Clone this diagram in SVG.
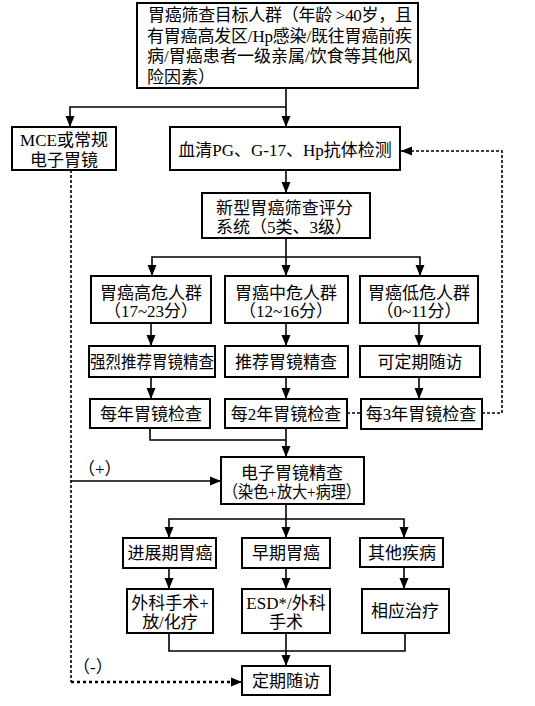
<svg xmlns="http://www.w3.org/2000/svg" width="535" height="706" viewBox="0 0 535 706">
<style>
.box{fill:#fff;stroke:#000;stroke-width:2}
.ln{fill:none;stroke:#000;stroke-width:1.6}
.dash{fill:none;stroke:#000;stroke-width:1.6;stroke-dasharray:3 2}
.dot{fill:none;stroke:#000;stroke-width:2.4;stroke-dasharray:3 3}
text{font-family:"Liberation Serif","Noto Sans CJK SC",serif;font-size:17px;fill:#000}
.c{text-anchor:middle}
</style>
<defs>
<marker id="ah" markerUnits="userSpaceOnUse" markerWidth="12" markerHeight="12" viewBox="0 0 12 12" refX="11" refY="6" orient="auto">
<path d="M0 1.5 L11 6 L0 10.5 Z" fill="#000"/>
</marker>
</defs>
<rect width="535" height="706" fill="#fff"/>
<g id="connectors">
<path class="ln" d="M286 88 V127" marker-end="url(#ah)"/>
<path class="ln" d="M286 107 H70 V127" marker-end="url(#ah)"/>
<path class="ln" d="M286 170 V193" marker-end="url(#ah)"/>
<path class="ln" d="M286 238 V276" marker-end="url(#ah)"/>
<path class="ln" d="M286 257 H152 V276" marker-end="url(#ah)"/>
<path class="ln" d="M286 257 H420 V276" marker-end="url(#ah)"/>
<path class="ln" d="M151 323 V346" marker-end="url(#ah)"/>
<path class="ln" d="M286 323 V346" marker-end="url(#ah)"/>
<path class="ln" d="M419 323 V346" marker-end="url(#ah)"/>
<path class="ln" d="M151 377 V399" marker-end="url(#ah)"/>
<path class="ln" d="M286 377 V399" marker-end="url(#ah)"/>
<path class="ln" d="M419 377 V399" marker-end="url(#ah)"/>
<path class="ln" d="M150 428 V440 H286"/>
<path class="ln" d="M286 429 V457" marker-end="url(#ah)"/>
<path class="dash" d="M347 413 H361"/>
<path class="dash" d="M482 413 H502 V151 H401" marker-end="url(#ah)"/>
<path class="dash" d="M71 170 V682"/>
<path class="dot" d="M71 682 H236"/>
<path class="ln" d="M236 682 H242" marker-end="url(#ah)"/>
<path class="ln" d="M71 481 H221" marker-end="url(#ah)"/>
<path class="ln" d="M286 504 V538" marker-end="url(#ah)"/>
<path class="ln" d="M286 519 H169 V538" marker-end="url(#ah)"/>
<path class="ln" d="M286 519 H404 V538" marker-end="url(#ah)"/>
<path class="ln" d="M169 568 V589" marker-end="url(#ah)"/>
<path class="ln" d="M286 568 V589" marker-end="url(#ah)"/>
<path class="ln" d="M404 567 V589" marker-end="url(#ah)"/>
<path class="ln" d="M169 633 V651 H405 V633"/>
<path class="ln" d="M286 633 V666" marker-end="url(#ah)"/>
</g>
<g id="n_target"><rect class="box" x="137" y="3" width="281" height="85"/>
<text x="148" y="21" textLength="264" lengthAdjust="spacing">胃癌筛查目标人群（年龄 &gt;40岁，且</text>
<text x="147" y="42" textLength="265" lengthAdjust="spacing">有胃癌高发区/Hp感染/既往胃癌前疾</text>
<text x="147" y="62" textLength="265" lengthAdjust="spacing">病/胃癌患者一级亲属/饮食等其他风</text>
<text x="147" y="83">险因素）</text></g>
<g id="n_mce"><rect class="box" x="12" y="127" width="104" height="43"/>
<text class="c" x="64" y="146">MCE或常规</text>
<text class="c" x="64" y="166">电子胃镜</text></g>
<g id="n_serum"><rect class="box" x="170" y="127" width="230" height="43"/>
<text class="c" x="285" y="156">血清PG、G-17、Hp抗体检测</text></g>
<g id="n_score"><rect class="box" x="202" y="193" width="168" height="45"/>
<text x="216" y="214" textLength="137" lengthAdjust="spacing">新型胃癌筛查评分</text>
<text x="216" y="233">系统（5类、3级）</text></g>
<g id="n_high"><rect class="box" x="91" y="276" width="120" height="47"/>
<text class="c" x="151" y="299">胃癌高危人群</text>
<text class="c" x="151" y="317">（17~23分）</text></g>
<g id="n_mid"><rect class="box" x="225" y="276" width="123" height="47"/>
<text class="c" x="286" y="299">胃癌中危人群</text>
<text class="c" x="286" y="317">（12~16分）</text></g>
<g id="n_low"><rect class="box" x="360" y="276" width="118" height="47"/>
<text class="c" x="419" y="299">胃癌低危人群</text>
<text class="c" x="419" y="317">（0~11分）</text></g>
<g id="n_rec1"><rect class="box" x="89" y="346" width="126" height="31"/>
<text x="90" y="368" textLength="124" lengthAdjust="spacingAndGlyphs">强烈推荐胃镜精查</text></g>
<g id="n_rec2"><rect class="box" x="225" y="346" width="123" height="31"/>
<text class="c" x="286" y="368">推荐胃镜精查</text></g>
<g id="n_rec3"><rect class="box" x="360" y="346" width="120" height="31"/>
<text class="c" x="420" y="368">可定期随访</text></g>
<g id="n_y1"><rect class="box" x="90" y="399" width="120" height="29"/>
<text class="c" x="151" y="420">每年胃镜检查</text></g>
<g id="n_y2"><rect class="box" x="225" y="399" width="122" height="29"/>
<text class="c" x="286" y="420">每2年胃镜检查</text></g>
<g id="n_y3"><rect class="box" x="361" y="399" width="121" height="30"/>
<text class="c" x="421" y="420">每3年胃镜检查</text></g>
<g id="n_endo"><rect class="box" x="221" y="457" width="143" height="47"/>
<text class="c" x="292" y="479">电子胃镜精查</text>
<text x="223" y="498" textLength="138" lengthAdjust="spacingAndGlyphs">（染色+放大+病理）</text></g>
<g id="n_adv"><rect class="box" x="123" y="538" width="93" height="30"/>
<text class="c" x="170" y="559">进展期胃癌</text></g>
<g id="n_early"><rect class="box" x="242" y="538" width="88" height="30"/>
<text class="c" x="286" y="559">早期胃癌</text></g>
<g id="n_other"><rect class="box" x="360" y="538" width="83" height="29"/>
<text class="c" x="402" y="559">其他疾病</text></g>
<g id="n_surg"><rect class="box" x="127" y="589" width="86" height="44"/>
<text class="c" x="170" y="609">外科手术+</text>
<text class="c" x="170" y="628">放/化疗</text></g>
<g id="n_esd"><rect class="box" x="242" y="589" width="88" height="44"/>
<text class="c" x="286" y="609">ESD*/外科</text>
<text class="c" x="286" y="628">手术</text></g>
<g id="n_treat"><rect class="box" x="362" y="589" width="87" height="44"/>
<text class="c" x="405" y="617">相应治疗</text></g>
<g id="n_follow"><rect class="box" x="242" y="666" width="88" height="29"/>
<text class="c" x="286" y="687">定期随访</text></g>
<g id="labels">
<text x="78" y="475">（+）</text>
<text x="73" y="673">（-）</text>
</g>
</svg>
